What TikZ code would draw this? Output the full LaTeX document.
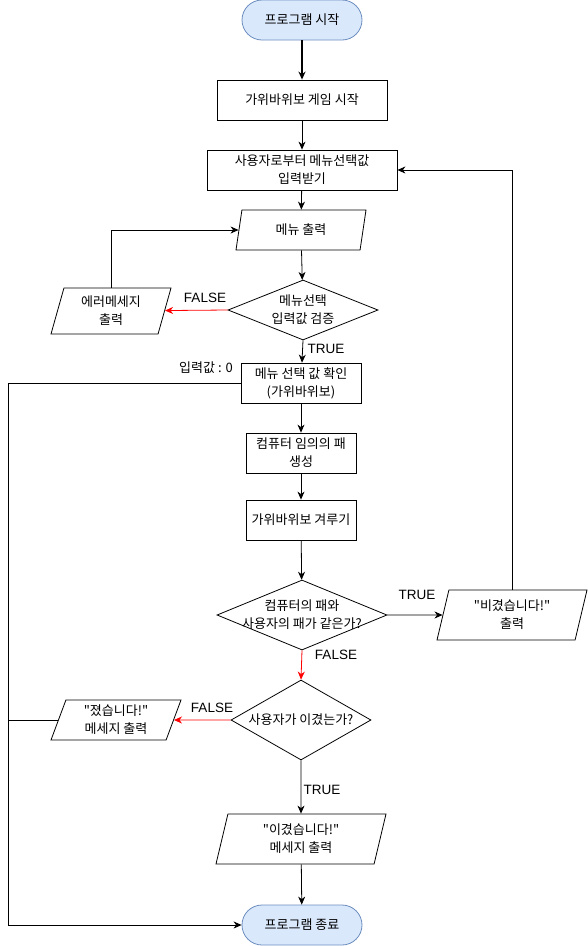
\documentclass[tikz,border=0pt]{standalone}
\usepackage{fontspec}
\setmainfont{Liberation Sans}
\newfontfamily\kr{Noto Sans CJK KR}
\usetikzlibrary{shapes.geometric,arrows.meta}
\definecolor{termfill}{HTML}{DAE8FC}
\definecolor{termdraw}{HTML}{6C8EBF}
\definecolor{falsered}{HTML}{FF0000}
\begin{document}
\begin{tikzpicture}[x=1pt,y=-1pt,
  every node/.style={font=\kr\fontsize{13}{18}\selectfont, align=center, inner sep=0pt},
  every label/.style={font=\kr\fontsize{13}{18}\selectfont, align=center, inner sep=0pt},
  term/.style={draw=termdraw, fill=termfill, rounded corners=20pt, minimum width=120pt, minimum height=40pt},
  procbox/.style={draw, minimum height=40pt},
  para/.style={draw, trapezium, trapezium stretches body, minimum height=#1},
  cond/.style={draw, diamond, aspect=2},
  lbl/.style={font=\fontsize{13.5}{15}\selectfont},
  arr/.style={-{Stealth[length=8pt,width=7pt,inset=2.5pt]}},
  redarr/.style={arr, draw=falsered},
  line width=0.8pt
]
\useasboundingbox (0,0) rectangle (588,946);

\node[term] (start) at (302,20) {프로그램 시작};
\node[procbox, minimum width=170pt] (game) at (302,100) {가위바위보 게임 시작};
\node[procbox, minimum width=190pt] (input) at (302,170) {사용자로부터 메뉴선택값\\입력받기};
\node[para=40pt, minimum width=130pt, trapezium left angle=63.4, trapezium right angle=116.6] (menu) at (301,230) {메뉴 출력};
\node[cond, minimum width=150pt, minimum height=60pt, label=center:{메뉴선택\\입력값 검증}] (check) at (303,310) {};
\node[para=46pt, minimum width=120pt, trapezium left angle=66.5, trapezium right angle=113.5] (err) at (111,311) {에러메세지\\출력};
\node[procbox, minimum width=120pt] (sel) at (301,383) {메뉴 선택 값 확인\\(가위바위보)};
\node[procbox, minimum width=110pt] (comp) at (301,453) {컴퓨터 임의의 패\\생성};
\node[procbox, minimum width=110pt] (play) at (301,520) {가위바위보 겨루기};
\node[cond, minimum width=170pt, minimum height=70pt, label=center:{컴퓨터의 패와\\사용자의 패가 같은가?}] (same) at (302,615) {};
\node[para=50pt, minimum width=150pt, trapezium left angle=68.2, trapezium right angle=111.8] (tie) at (512,615) {"비겼습니다!"\\출력};
\node[cond, minimum width=140pt, minimum height=80pt, label=center:{사용자가 이겼는가?}] (win) at (301,720) {};
\node[para=40pt, minimum width=130pt, trapezium left angle=63.4, trapezium right angle=116.6] (lose) at (116,720) {"졌습니다!"\\메세지 출력};
\node[para=50pt, minimum width=170pt, trapezium left angle=68.2, trapezium right angle=111.8] (winmsg) at (301,839) {"이겼습니다!"\\메세지 출력};
\node[term] (stop) at (302,925) {프로그램 종료};

\coordinate (Ltop) at (8,383);
\coordinate (Lbot) at (8,925);

\draw[arr, line width=2pt] (start) -- (game);
\draw[arr] (game) -- (input);
\draw[arr] (input) -- (menu);
\draw[arr] (menu) -- (check);
\draw[redarr] (check.west) -- (err);
\draw[arr] (err.north) |- (menu);
\draw[arr] (check.south) -- (sel);
\draw[arr] (sel) -- (comp);
\draw[arr] (comp) -- (play);
\draw[arr] (play) -- (same);
\draw[arr] (same.east) -- (tie);
\draw[arr] (tie.north) |- (input.east);
\draw[redarr] (same.south) -- (win.north);
\draw[redarr] (win.west) -- (lose);
\draw[arr] (win.south) -- (winmsg);
\draw[arr] (winmsg) -- (stop);
\draw[arr] (sel.west) -- (Ltop) -- (Lbot) -- (stop.west);
\draw (lose.west) -- (lose.west -| Ltop);

\node[lbl] (lf1) at (205,298) {FALSE};
\node[lbl] (lt1) at (326,349) {TRUE};
\node (l0) at (206,368) {입력값 : 0};
\node[lbl] (lt2) at (417,595) {TRUE};
\node[lbl] (lf2) at (336,655) {FALSE};
\node[lbl] (lf3) at (212,708) {FALSE};
\node[lbl] (lt3) at (322,790) {TRUE};
\end{tikzpicture}
\end{document}
